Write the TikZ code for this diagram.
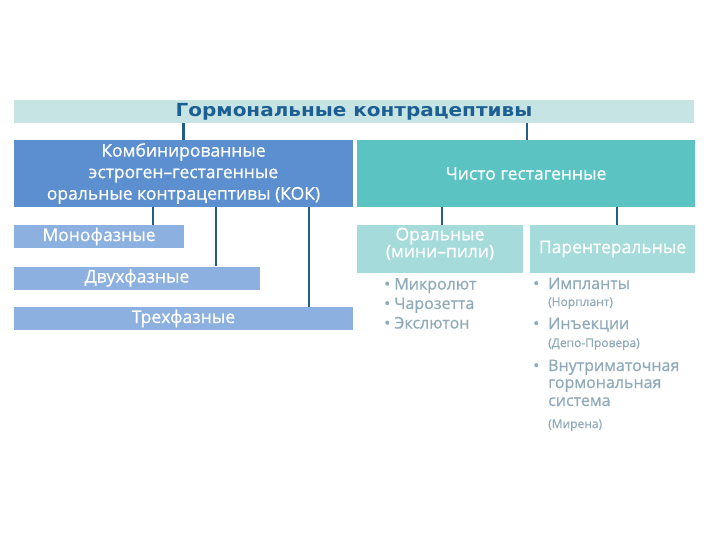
\documentclass[tikz,border=0pt]{standalone}
\usepackage{fontspec}
\setmainfont{Open Sans}[FakeBold=0.8]
\newfontfamily\titlefont[FakeStretch=1.11]{DejaVu Sans}
\definecolor{titlebar}{HTML}{C6E4E4}
\definecolor{titletext}{HTML}{1E5F92}
\definecolor{kokblue}{HTML}{5B8FCF}
\definecolor{subblue}{HTML}{8CB0E0}
\definecolor{puregreen}{HTML}{5CC3C3}
\definecolor{subgreen}{HTML}{A5DCDB}
\definecolor{linecol}{HTML}{235E84}
\definecolor{listtext}{HTML}{8FAAB8}
\begin{document}
\begin{tikzpicture}[x=1pt, y=-1pt,
    box/.style={inner sep=0pt, text=white, align=center, font=\fontsize{17.5}{21.5}\selectfont},
    link/.style={line width=2.5pt, draw=linecol},
    item/.style={inner sep=0pt, text=listtext, font=\fontsize{16}{18}\selectfont},
    note/.style={inner sep=0pt, text=listtext, font=\fontsize{12}{14}\selectfont}]
    \useasboundingbox (0,0) rectangle (720,540);

    % Заголовок
    \node[box, fill=titlebar, minimum width=680pt, minimum height=23pt] (title) at (354,111.5) {\titlefont\bfseries\fontsize{18}{19}\selectfont\color{titletext}Гормональные контрацептивы};

    % КОК
    \node[box, fill=kokblue, minimum width=339pt, minimum height=67pt] (kok) at (183.5,173.5) {Комбинированные\\эстроген–гестагенные\\оральные контрацептивы (КОК)};
    \node[box, fill=subblue, minimum width=170pt, minimum height=23pt] (mono) at (99,236.5) {Монофазные};
    \node[box, fill=subblue, minimum width=246pt, minimum height=23pt] (dvuh) at (137,278) {Двухфазные};
    \node[box, fill=subblue, minimum width=339pt, minimum height=23pt] (treh) at (183.5,318.5) {Трехфазные};

    % Чисто гестагенные
    \node[box, fill=puregreen, minimum width=338pt, minimum height=67pt] (pure) at (526,173.5) {Чисто гестагенные};
    \node[box, fill=subgreen, minimum width=166pt, minimum height=48pt, font=\fontsize{17.5}{17}\selectfont] (oral) at (440,249) {Оральные\\(мини–пили)\\[-4pt]\mbox{}};
    \node[box, fill=subgreen, minimum width=165pt, minimum height=48pt] (parent) at (612.5,249) {Парентеральные};

    % Связи
    \draw[link] (kok.north) -- (kok.north |- title.south);
    \draw[link] ([xshift=1pt]pure.north) -- ([xshift=1pt]pure.north |- title.south);
    \draw[link] ([xshift=54pt]mono.north) -- ([xshift=54pt]mono.north |- kok.south);
    \draw[link] ([xshift=79pt]dvuh.north) -- ([xshift=79pt]dvuh.north |- kok.south);
    \draw[link] ([xshift=125.5pt]treh.north) -- ([xshift=125.5pt]treh.north |- kok.south);
    \draw[link] ([xshift=2pt]oral.north) -- ([xshift=2pt]oral.north |- pure.south);
    \draw[link] ([xshift=4.5pt]parent.north) -- ([xshift=4.5pt]parent.north |- pure.south);

    % Препараты
    \foreach \drug [count=\i] in {Микролют, Чарозетта, Экслютон}
        \node[item, anchor=base west] (pill\i) at (384,270+19.5*\i) {• \drug};
    \foreach \y [count=\i] in {289,329,371}
        \node[item, anchor=base west] (dot\i) at (533,\y) {•};
    \foreach \y/\txt [count=\i] in {289/Импланты, 329/Инъекции, 371/Внутриматочная, 388/гормональная, 406/система}
        \node[item, anchor=base west] (method\i) at (548,\y) {\txt};
    \foreach \y/\txt [count=\i] in {306/(Норплант), 347/(Депо-Провера), 428/(Мирена)}
        \node[note, anchor=base west] (brand\i) at (548,\y) {\txt};
\end{tikzpicture}
\end{document}
